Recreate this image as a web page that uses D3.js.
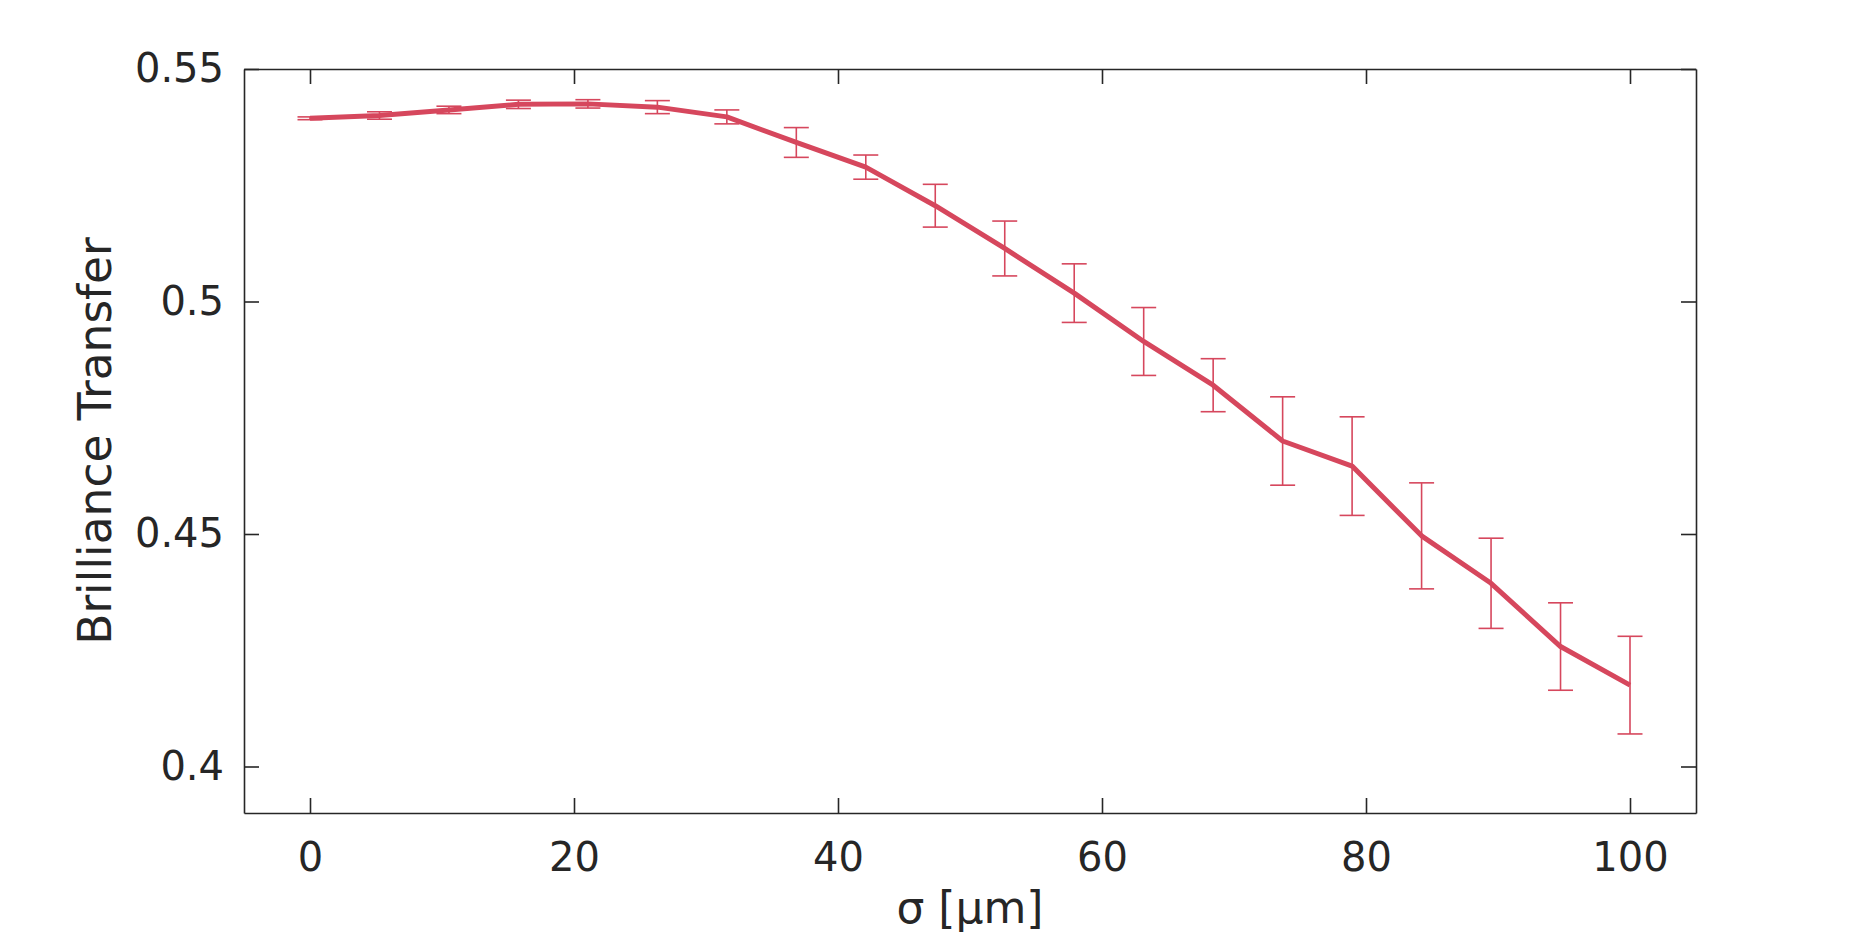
<!DOCTYPE html>
<html>
<head>
<meta charset="utf-8">
<script src="https://cdn.jsdelivr.net/npm/d3@7"></script>
<style>
    body { margin: 0; background: #fff; }
    text { font-family: "DejaVu Sans", sans-serif; fill: #262626; }
</style>
</head>
<body>
<svg id="chart" width="1875" height="938"></svg>
<script>
// sigma values (µm) and the measured transfer with its error
const sigma = [0, 5.263, 10.526, 15.789, 21.053, 26.316, 31.579, 36.842, 42.105, 47.368,
    52.632, 57.895, 63.158, 68.421, 73.684, 78.947, 84.211, 89.474, 94.737, 100];
const transfer = [0.5394, 0.5400, 0.5412, 0.5424, 0.5425, 0.5418, 0.5397, 0.5342, 0.5289, 0.5206,
    0.5114, 0.5018, 0.4914, 0.4820, 0.4700, 0.4646, 0.4496, 0.4394, 0.4258, 0.4175];
const errors = [0.0003, 0.0008, 0.0008, 0.0009, 0.0009, 0.0014, 0.0015, 0.0032, 0.0026, 0.0046,
    0.0059, 0.0063, 0.0073, 0.0057, 0.0095, 0.0106, 0.0114, 0.0097, 0.0094, 0.0105];

const xTicks = [0, 20, 40, 60, 80, 100];
const yTicks = [0.4, 0.45, 0.5, 0.55];

function drawChart() {
    let svg = d3.select("#chart");
    const left = 244, right = 1696, top = 69, bottom = 813;
    const red = "#d6475d";
    const axisColor = "#262626";

    let x = d3.scaleLinear().domain([-5, 105]).range([left, right]);
    let y = d3.scaleLinear().domain([0.39, 0.55]).range([bottom, top]);

    // axes with ticks pointing inward on all four sides
    let gx = svg.append("g")
        .attr("transform", `translate(0,${bottom})`)
        .call(d3.axisBottom(x).tickValues(xTicks).tickSize(-15).tickSizeOuter(0).tickPadding(30)
            .tickFormat(d3.format("d")));
    let gxt = svg.append("g")
        .attr("transform", `translate(0,${top})`)
        .call(d3.axisTop(x).tickValues(xTicks).tickSize(-15).tickSizeOuter(0).tickFormat(""));
    let gy = svg.append("g")
        .attr("transform", `translate(${left},0)`)
        .call(d3.axisLeft(y).tickValues(yTicks).tickSize(-15).tickSizeOuter(0).tickPadding(20)
            .tickFormat(d => String(+d.toFixed(2))));
    let gyr = svg.append("g")
        .attr("transform", `translate(${right},0)`)
        .call(d3.axisRight(y).tickValues(yTicks).tickSize(-15).tickSizeOuter(0).tickFormat(""));

    [gx, gxt, gy, gyr].forEach(g => {
        g.selectAll("path, line").attr("stroke", axisColor).attr("stroke-width", 1.6);
        g.selectAll("text").attr("font-size", 40).attr("fill", axisColor)
            .attr("font-family", "DejaVu Sans");
    });

    // error bars
    let bars = svg.append("g").attr("stroke", red).attr("stroke-width", 1.6).attr("fill", "none");
    sigma.forEach((s, i) => {
        let cx = x(s), y1 = y(transfer[i] - errors[i]), y2 = y(transfer[i] + errors[i]);
        bars.append("line").attr("x1", cx).attr("x2", cx).attr("y1", y1).attr("y2", y2);
        bars.append("line").attr("x1", cx - 12.5).attr("x2", cx + 12.5).attr("y1", y1).attr("y2", y1);
        bars.append("line").attr("x1", cx - 12.5).attr("x2", cx + 12.5).attr("y1", y2).attr("y2", y2);
    });

    // main line
    let line = d3.line().x((d, i) => x(sigma[i])).y(d => y(d));
    svg.append("path")
        .datum(transfer)
        .attr("d", line)
        .attr("fill", "none")
        .attr("stroke", red)
        .attr("stroke-width", 5)
        .attr("stroke-linejoin", "round");

    // axis labels
    svg.append("text")
        .attr("x", (left + right) / 2)
        .attr("y", 923)
        .attr("text-anchor", "middle")
        .attr("font-size", 44)
        .text("σ [μm]");

    svg.append("text")
        .attr("transform", `translate(111,${(top + bottom) / 2}) rotate(-90)`)
        .attr("text-anchor", "middle")
        .attr("font-size", 45.5)
        .text("Brilliance Transfer");
}

drawChart()
</script>
</body>
</html>
